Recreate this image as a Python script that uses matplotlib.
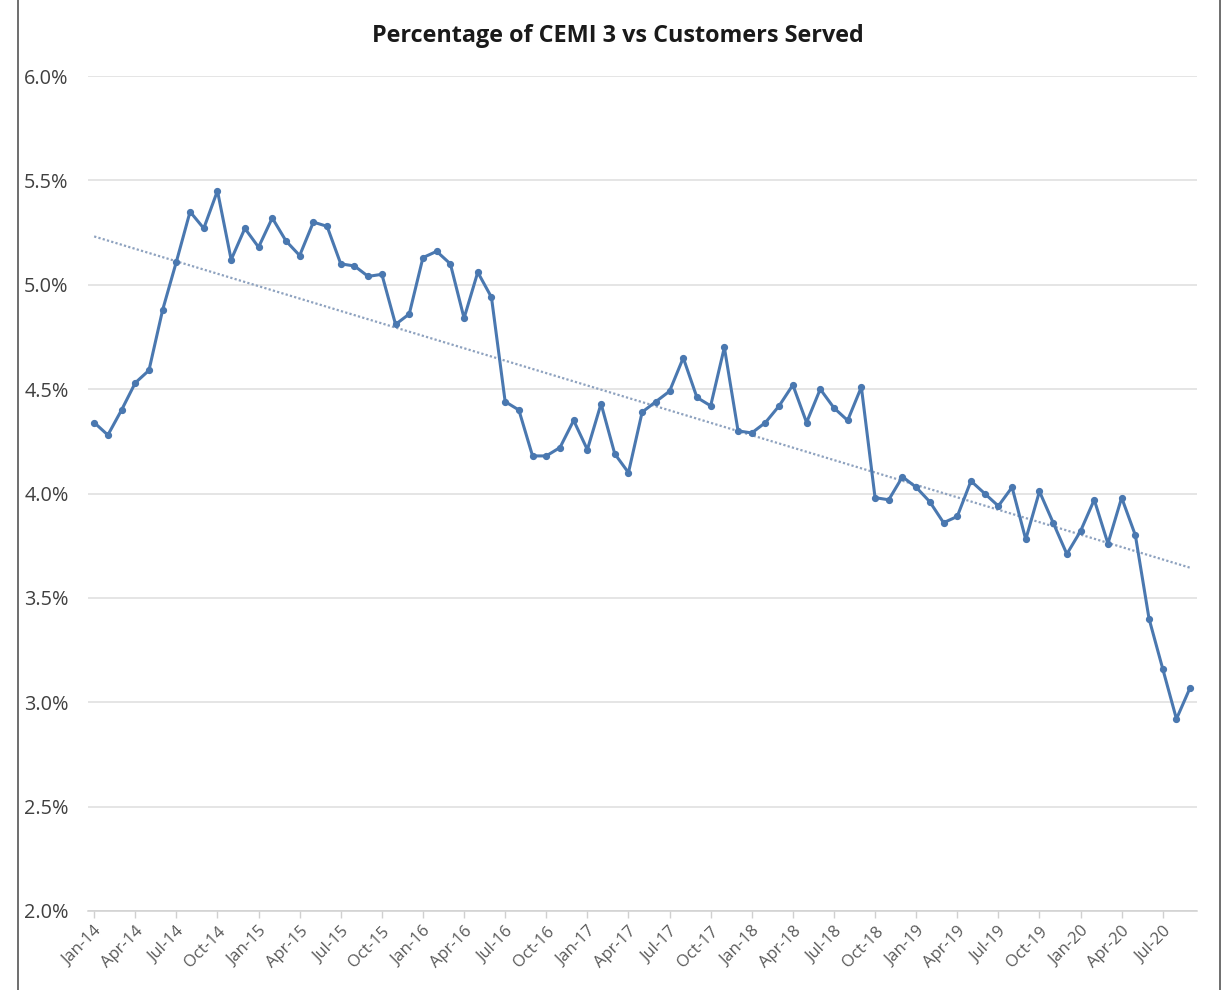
import numpy as np
import matplotlib
matplotlib.use("Agg")
import matplotlib.pyplot as plt
from matplotlib.ticker import FuncFormatter, FixedLocator

# monthly values, Jan-14 .. Sep-20 (percent)
months = [f"{m}-{y}" for y in range(14, 21)
          for m in ["Jan", "Feb", "Mar", "Apr", "May", "Jun",
                    "Jul", "Aug", "Sep", "Oct", "Nov", "Dec"]][:81]

cemi3 = [4.34, 4.28, 4.40, 4.53, 4.59, 4.88, 5.11, 5.35, 5.27, 5.45, 5.12, 5.27,
         5.18, 5.32, 5.21, 5.14, 5.30, 5.28, 5.10, 5.09, 5.04, 5.05, 4.81, 4.86,
         5.13, 5.16, 5.10, 4.84, 5.06, 4.94, 4.44, 4.40, 4.18, 4.18, 4.22, 4.35,
         4.21, 4.43, 4.19, 4.10, 4.39, 4.44, 4.49, 4.65, 4.46, 4.42, 4.70, 4.30,
         4.29, 4.34, 4.42, 4.52, 4.34, 4.50, 4.41, 4.35, 4.51, 3.98, 3.97, 4.08,
         4.03, 3.96, 3.86, 3.89, 4.06, 4.00, 3.94, 4.03, 3.78, 4.01, 3.86, 3.71,
         3.82, 3.97, 3.76, 3.98, 3.80, 3.40, 3.16, 2.92, 3.07]

x = np.arange(len(cemi3))
y = np.array(cemi3)

# linear trendline like the Excel one
slope, intercept = np.polyfit(x, y, 1)
trend = slope * x + intercept

fig = plt.figure(figsize=(12.28, 9.90), dpi=100)
ax = fig.add_axes([88 / 1228, 1 - 911 / 990, (1197 - 88) / 1228, (911 - 76) / 990])

ax.plot(x, trend, color="#8ea2bf", linestyle=(0, (1, 1)), linewidth=1.6, zorder=2)
ax.plot(x, y, color="#4a78b0", linewidth=2.2, marker="o", markersize=4.2, zorder=3)

ax.set_ylim(2.0, 6.0)
ax.set_xlim(-0.45, 80.5)
ax.set_yticks(np.arange(2.0, 6.01, 0.5))
ax.yaxis.set_major_formatter(FuncFormatter(lambda v, p: f"{v:.1f}%"))
ax.grid(axis="y", color="#dedede", linewidth=1.1)
ax.set_axisbelow(True)

tick_pos = x[::3]
ax.xaxis.set_major_locator(FixedLocator(tick_pos))
ax.set_xticklabels([months[i] for i in tick_pos], rotation=45, ha="right",
                   rotation_mode="anchor", fontsize=12, color="#595959",
                   family="Open Sans")
ax.tick_params(axis="x", length=5, color="#d0d0d0", width=1, pad=4)
ax.tick_params(axis="y", length=0, pad=14, labelsize=14.3, labelcolor="#404040")
for lab in ax.get_yticklabels():
    lab.set_family("Open Sans")

for s in ["top", "right", "left"]:
    ax.spines[s].set_visible(False)
ax.spines["bottom"].set_color("#d0d0d0")
ax.spines["bottom"].set_linewidth(1.1)

fig.text(0.503, 1 - 36 / 990, "Percentage of CEMI 3 vs Customers Served",
         ha="center", va="center", fontsize=16.8, fontweight="bold",
         family="Open Sans", color="#1a1a1a")

# chart frame edges visible in the screenshot
fig.add_artist(plt.Line2D([18 / 1228, 18 / 1228], [0, 1], color="#555555", linewidth=1.2))
fig.add_artist(plt.Line2D([1220 / 1228, 1220 / 1228], [0, 1], color="#555555", linewidth=1.2))

fig.savefig("out.png", dpi=100)
